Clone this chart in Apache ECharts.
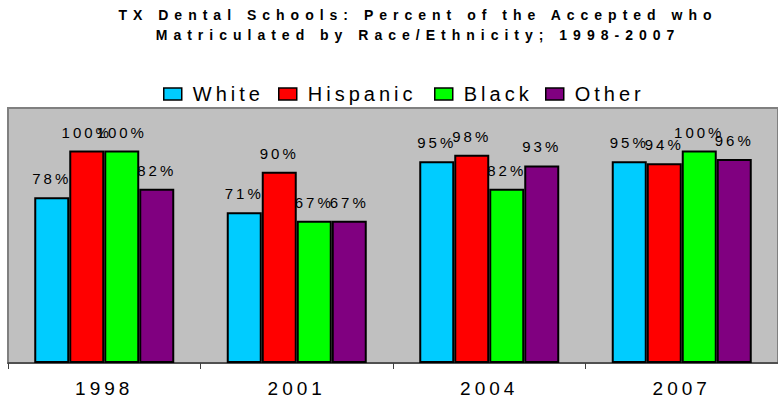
<!DOCTYPE html>
<html>
<head>
<meta charset="utf-8">
<script src="https://cdn.jsdelivr.net/npm/echarts@6/dist/echarts.min.js"></script>
<style>
  html, body { margin: 0; padding: 0; background: #ffffff; }
  #chart { width: 778px; height: 400px; }
  /* wide tracking for each text group (the family names act as tags) */
  #chart text[style*="TitleTrack"], #chart text[font-family*="TitleTrack"] { letter-spacing: 6px; }
  #chart text[style*="ValueTrack"], #chart text[font-family*="ValueTrack"] { letter-spacing: 3px; }
  #chart text[style*="KeyTrack"],   #chart text[font-family*="KeyTrack"]   { letter-spacing: 4px; }
  #chart text[style*="YearTrack"],  #chart text[font-family*="YearTrack"]  { letter-spacing: 4px; }
</style>
</head>
<body>
<div id="chart"></div>
<script>
// Percent of accepted applicants who matriculated, Texas dental schools
const years = ['1998', '2001', '2004', '2007'];
const groups = ['White', 'Hispanic', 'Black', 'Other'];
const white = [78, 71, 95, 95];
const hispanic = [100, 90, 98, 94];
const black = [100, 67, 82, 100];
const other = [82, 67, 93, 96];
const seriesValues = [white, hispanic, black, other];
const colors = ['#00CCFF', '#FF0000', '#00FF00', '#800080'];
const titleLines = [
  'TX Dental Schools: Percent of the Accepted who',
  'Matriculated by Race/Ethnicity; 1998-2007'
];

const legendLeft = [158, 273, 429, 540];

const chart = echarts.init(document.getElementById('chart'), null, { renderer: 'svg' });

chart.setOption({
  animation: false,
  backgroundColor: '#ffffff',
  graphic: [{
    type: 'text',
    x: 418,
    y: 25,
    style: {
      text: titleLines.join('\n'),
      font: "bold 14px 'Liberation Sans', TitleTrack",
      fill: '#000000',
      textAlign: 'center',
      textVerticalAlign: 'middle',
      lineHeight: 20
    }
  }],
  legend: groups.map((g, i) => ({
    data: [g],
    left: legendLeft[i],
    top: 79,
    itemWidth: 18,
    itemHeight: 12,
    icon: 'rect',
    selectedMode: false,
    itemStyle: { borderColor: '#000000', borderWidth: 1.5 },
    textStyle: {
      fontFamily: "'Liberation Sans', KeyTrack",
      fontSize: 20,
      color: '#000000',
      padding: [0, 0, 0, 6]
    }
  })),
  grid: {
    left: 8,
    top: 108,
    width: 783,
    height: 255,
    show: true,
    backgroundColor: '#C0C0C0',
    borderColor: '#808080',
    borderWidth: 2,
    containLabel: false
  },
  xAxis: {
    type: 'category',
    data: years,
    axisLine: { lineStyle: { color: '#404040', width: 1.5 } },
    axisTick: { show: true, length: 6, lineStyle: { color: '#404040', width: 1 } },
    axisLabel: {
      fontFamily: "'Liberation Sans', YearTrack",
      fontSize: 19,
      color: '#000000',
      margin: 16
    }
  },
  yAxis: {
    type: 'value',
    min: 0,
    max: 120,
    show: false,
    splitLine: { show: false }
  },
  series: groups.map((g, i) => ({
    name: g,
    type: 'bar',
    data: seriesValues[i],
    barWidth: 35,
    barGap: '0%',
    itemStyle: { color: colors[i], borderColor: '#000000', borderWidth: 2 },
    label: {
      show: true,
      position: 'top',
      distance: 11,
      formatter: '{c}%',
      fontFamily: "'Liberation Sans', ValueTrack",
      fontSize: 15,
      color: '#000000'
    }
  }))
});
</script>
</body>
</html>
